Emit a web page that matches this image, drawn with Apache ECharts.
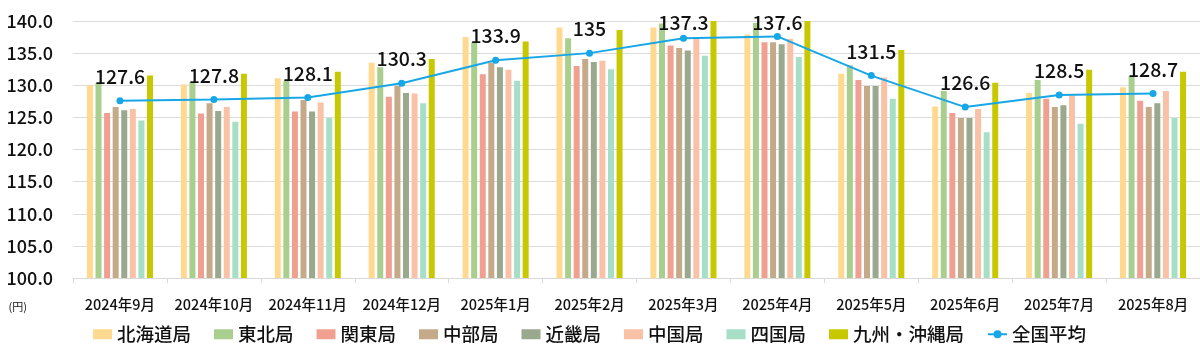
<!DOCTYPE html>
<html>
<head>
<meta charset="utf-8">
<script src="https://cdn.jsdelivr.net/npm/echarts@6/dist/echarts.min.js"></script>
<style>html,body{margin:0;padding:0;background:#fff}#c{width:1200px;height:345px}</style>
</head>
<body>
<div id="c"></div>
<script>
const categories = ['2024年9月','2024年10月','2024年11月','2024年12月','2025年1月','2025年2月','2025年3月','2025年4月','2025年5月','2025年6月','2025年7月','2025年8月'];
const yTicks = [100, 105, 110, 115, 120, 125, 130, 135, 140];
const hokkaido = [130.0,130.1,131.1,133.5,137.5,139.0,139.0,137.9,131.8,126.7,128.8,129.7];
const tohoku   = [130.4,130.5,130.7,132.8,136.7,137.3,139.6,139.7,133.1,129.1,130.8,131.5];
const kanto    = [125.7,125.6,125.9,128.2,131.7,133.0,136.2,136.7,130.8,125.7,127.9,127.6];
const chubu    = [126.6,127.2,127.7,129.9,133.5,134.1,135.8,136.7,129.9,124.9,126.6,126.6];
const kinki    = [126.1,126.0,125.9,128.8,132.8,133.6,135.4,136.4,129.9,124.9,126.9,127.2];
const chugoku  = [126.3,126.6,127.3,128.7,132.4,133.8,137.3,137.2,131.2,126.3,128.4,129.1];
const shikoku  = [124.5,124.3,124.9,127.2,130.7,132.5,134.6,134.4,127.9,122.7,124.0,124.9];
const kyushu   = [131.5,131.8,132.1,134.1,136.8,138.6,140.0,140.0,135.5,130.4,132.4,132.1];
const national = [127.6,127.8,128.1,130.3,133.9,135,137.3,137.6,131.5,126.6,128.5,128.7];

const barNames = ['北海道局','東北局','関東局','中部局','近畿局','中国局','四国局','九州・沖縄局'];
const barData = [hokkaido,tohoku,kanto,chubu,kinki,chugoku,shikoku,kyushu];
const barColors = ['#FFD98F','#A9CF8F','#EFA090','#C4AA88','#9AA88E','#F9C2A6','#A6DFC6','#C8C800'];
const lineName = '全国平均';
const font = '"Noto Sans CJK JP", "Noto Sans", sans-serif';

const series = barNames.map((n, i) => ({
  name: n, type: 'bar', data: barData[i], barWidth: 6, barGap: '43%',
  itemStyle: { color: barColors[i] }, z: 2
}));
series.push({
  name: lineName, type: 'line', data: national,
  symbol: 'circle', symbolSize: 7, showAllSymbol: true,
  lineStyle: { color: '#18A7E6', width: 2 }, itemStyle: { color: '#18A7E6' },
  label: { show: true, position: 'top', distance: 11, color: '#111', fontSize: 19.5, fontWeight: 500, fontFamily: font,
    formatter: p => String(p.value) },
  labelLayout: p => ({
    x: p.labelRect.x + p.labelRect.width / 2, align: 'center',
    y: Math.max(p.labelRect.y, 13), verticalAlign: 'top'
  }),
  z: 5
});

const chart = echarts.init(document.getElementById('c'), null, { renderer: 'canvas' });
chart.setOption({
  animation: false,
  textStyle: { fontFamily: font },
  grid: { left: 73, right: 0, top: 21, bottom: 67, containLabel: false },
  legend: {
    left: 88, top: 320, itemWidth: 19, itemHeight: 10, itemGap: 23,
    textStyle: { fontSize: 18.5, color: '#111', fontWeight: 500, fontFamily: font },
    data: barNames.map(n => ({ name: n, icon: 'rect' })).concat([{ name: lineName }])
  },
  xAxis: {
    type: 'category', data: categories,
    axisLine: { lineStyle: { color: '#D9D9D9' } },
    axisTick: { show: true, lineStyle: { color: '#D9D9D9' }, length: 5 },
    axisLabel: { color: '#111', fontSize: 14.5, margin: 19, interval: 0, fontWeight: 500, fontFamily: font }
  },
  yAxis: {
    type: 'value', min: yTicks[0], max: yTicks[yTicks.length - 1], interval: 5,
    name: '(円)', nameLocation: 'start', nameGap: 23,
    nameTextStyle: { color: '#111', fontSize: 11, align: 'right', padding: [0, 46, 0, 0] },
    axisLine: { show: false }, axisTick: { show: false },
    splitLine: { lineStyle: { color: '#DCDCDC' } },
    axisLabel: { color: '#111', fontSize: 18, margin: 20, fontWeight: 500, fontFamily: font,
      formatter: v => v.toFixed(1) }
  },
  series: series
});
</script>
</body>
</html>
